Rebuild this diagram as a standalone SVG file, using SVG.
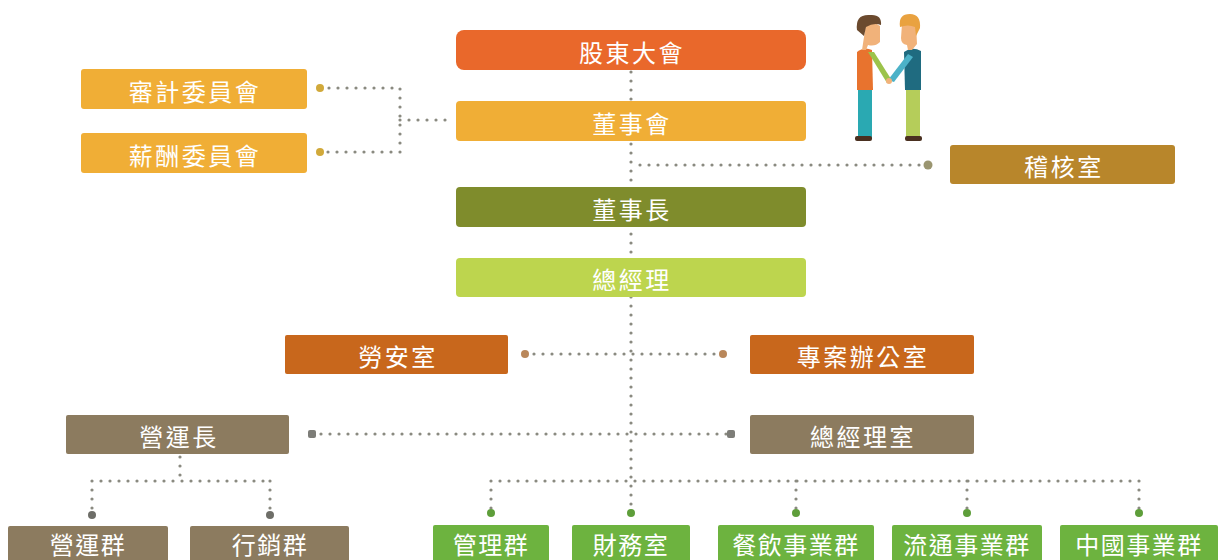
<svg xmlns="http://www.w3.org/2000/svg" width="1220" height="560" viewBox="0 0 1220 560">
  <defs>
    <style>
      .box { stroke: none; }
      .lbl { font-family: "Noto Sans CJK TC", "Noto Sans CJK SC", sans-serif; font-size: 24px; fill: #ffffff; text-anchor: middle; dominant-baseline: central; letter-spacing: 2.5px; }
      .lbl-b { font-size: 24px; letter-spacing: 1.5px; }
      .dots { fill: none; stroke: #8a8a80; stroke-width: 3.2; stroke-linecap: round; stroke-dasharray: 0 9; }
      .c-red { fill: #e9682b; }
      .c-gold { fill: #f0ae36; }
      .c-mustard { fill: #b8862b; }
      .c-olive { fill: #7f8c2c; }
      .c-lime { fill: #bdd54e; }
      .c-rust { fill: #c8671c; }
      .c-taupe { fill: #8c7b5f; }
      .c-green { fill: #6db33f; }
    </style>
  </defs>

  <rect width="1220" height="560" fill="#ffffff"/>

  <!-- dotted connectors, drawn under the boxes -->
  <g id="connectors">
    <!-- main spine -->
    <path class="dots" d="M631 72 V512"/>
    <!-- committees to board -->
    <path class="dots" d="M320 88 H400 V152 H320 M400 120 H454"/>
    <!-- audit office branch -->
    <path class="dots" d="M640 165 H928"/>
    <!-- safety office / project office -->
    <path class="dots" d="M525 354 H723"/>
    <!-- COO / GM office -->
    <path class="dots" d="M312 434 H731"/>
    <!-- COO subtree -->
    <path class="dots" d="M180 457 V481 M92 481 H270 M92 481 V515 M270 481 V515"/>
    <!-- business groups -->
    <path class="dots" d="M491 481 H1139 M491 481 V512 M796 481 V512 M967 481 V512 M1139 481 V512"/>
    <!-- end points -->
    <circle cx="320" cy="88" r="4" fill="#d1a93a"/>
    <circle cx="320" cy="152" r="4" fill="#d1a93a"/>
    <circle cx="928" cy="165" r="4.5" fill="#9a9570"/>
    <circle cx="525" cy="354" r="4" fill="#b9875a"/>
    <circle cx="723" cy="354" r="4" fill="#b9875a"/>
    <rect x="308" y="430" width="8" height="8" rx="2" fill="#7d7d78"/>
    <rect x="727" y="430" width="8" height="8" rx="2" fill="#7d7d78"/>
    <circle cx="92" cy="515" r="4" fill="#6e6e68"/>
    <circle cx="270" cy="515" r="4" fill="#6e6e68"/>
    <circle cx="491" cy="513" r="4" fill="#5e9e3a"/>
    <circle cx="631" cy="513" r="4" fill="#5e9e3a"/>
    <circle cx="796" cy="513" r="4" fill="#5e9e3a"/>
    <circle cx="967" cy="513" r="4" fill="#5e9e3a"/>
    <circle cx="1139" cy="513" r="4" fill="#5e9e3a"/>
  </g>

  <!-- people shaking hands -->
  <g id="handshake">
    <!-- left figure -->
    <rect x="858" y="88" width="14" height="50" fill="#2aa9b2"/>
    <rect x="855" y="136" width="17" height="5" rx="2" fill="#4a3020"/>
    <path d="M857 52 Q864 46 872 50 L873 90 L857 90 Z" fill="#e8732e"/>
    <path d="M868 52 L874 52 L891 79 L887 83 Z" fill="#9cc34a"/>
    <path d="M866 24 Q873 20 880 26 L880 42 Q875 47 868 45 L866 50 L862 50 Z" fill="#f1b27a"/>
    <path d="M857 30 Q855 14 870 15 Q882 14 881 25 Q874 22 866 27 L864 36 Z" fill="#6b4a2e"/>
    <!-- right figure -->
    <rect x="906" y="88" width="14" height="50" fill="#b5cd5a"/>
    <rect x="905" y="136" width="17" height="5" rx="2" fill="#4a3020"/>
    <path d="M904 52 Q912 46 921 51 L921 90 L905 90 Z" fill="#1f6b80"/>
    <path d="M908 54 L913 57 L894 82 L888 80 Z" fill="#4cb2c8"/>
    <circle cx="889" cy="81" r="3" fill="#f1b27a"/>
    <path d="M902 24 Q908 20 916 24 L917 44 L912 50 L908 50 L907 45 Q901 44 901 38 Z" fill="#f1b27a"/>
    <path d="M900 27 Q898 14 910 14 Q921 14 920 28 L916 36 L915 27 Q908 24 900 27 Z" fill="#e9a240"/>
  </g>

  <g id="shareholders">
    <rect class="box c-red" x="456" y="30" width="350" height="40" rx="8"/>
    <text class="lbl" x="632" y="51">股東大會</text>
  </g>
  <g id="board">
    <rect class="box c-gold" x="456" y="101" width="350" height="40" rx="4"/>
    <text class="lbl" x="632" y="122">董事會</text>
  </g>
  <g id="audit-committee">
    <rect class="box c-gold" x="81" y="69" width="226" height="40" rx="3"/>
    <text class="lbl" x="195" y="90">審計委員會</text>
  </g>
  <g id="remuneration-committee">
    <rect class="box c-gold" x="81" y="133" width="226" height="40" rx="3"/>
    <text class="lbl" x="195" y="154">薪酬委員會</text>
  </g>
  <g id="audit-office">
    <rect class="box c-mustard" x="950" y="145" width="225" height="39" rx="3"/>
    <text class="lbl" x="1064" y="165">稽核室</text>
  </g>
  <g id="chairman">
    <rect class="box c-olive" x="456" y="187" width="350" height="40" rx="4"/>
    <text class="lbl" x="632" y="208">董事長</text>
  </g>
  <g id="president">
    <rect class="box c-lime" x="456" y="258" width="350" height="39" rx="4"/>
    <text class="lbl" x="632" y="278">總經理</text>
  </g>
  <g id="safety-office">
    <rect class="box c-rust" x="285" y="335" width="223" height="39" rx="2"/>
    <text class="lbl" x="398" y="355">勞安室</text>
  </g>
  <g id="project-office">
    <rect class="box c-rust" x="750" y="335" width="224" height="39" rx="2"/>
    <text class="lbl" x="863" y="355">專案辦公室</text>
  </g>
  <g id="coo">
    <rect class="box c-taupe" x="66" y="415" width="223" height="39" rx="2"/>
    <text class="lbl" x="179" y="435">營運長</text>
  </g>
  <g id="president-office">
    <rect class="box c-taupe" x="750" y="415" width="224" height="39" rx="2"/>
    <text class="lbl" x="863" y="435">總經理室</text>
  </g>
  <g id="operations-group">
    <rect class="box c-taupe" x="8" y="526" width="160" height="45" rx="2"/>
    <text class="lbl lbl-b" x="88" y="543">營運群</text>
  </g>
  <g id="marketing-group">
    <rect class="box c-taupe" x="190" y="526" width="159" height="45" rx="2"/>
    <text class="lbl lbl-b" x="270" y="543">行銷群</text>
  </g>
  <g id="management-group">
    <rect class="box c-green" x="433" y="525" width="116" height="45" rx="2"/>
    <text class="lbl lbl-b" x="491" y="543">管理群</text>
  </g>
  <g id="finance-office">
    <rect class="box c-green" x="572" y="525" width="118" height="45" rx="2"/>
    <text class="lbl lbl-b" x="631" y="543">財務室</text>
  </g>
  <g id="food-group">
    <rect class="box c-green" x="718" y="525" width="156" height="45" rx="2"/>
    <text class="lbl lbl-b" x="796" y="543">餐飲事業群</text>
  </g>
  <g id="retail-group">
    <rect class="box c-green" x="892" y="525" width="150" height="45" rx="2"/>
    <text class="lbl lbl-b" x="967" y="543">流通事業群</text>
  </g>
  <g id="china-group">
    <rect class="box c-green" x="1060" y="525" width="158" height="45" rx="2"/>
    <text class="lbl lbl-b" x="1139" y="543">中國事業群</text>
  </g>
</svg>
